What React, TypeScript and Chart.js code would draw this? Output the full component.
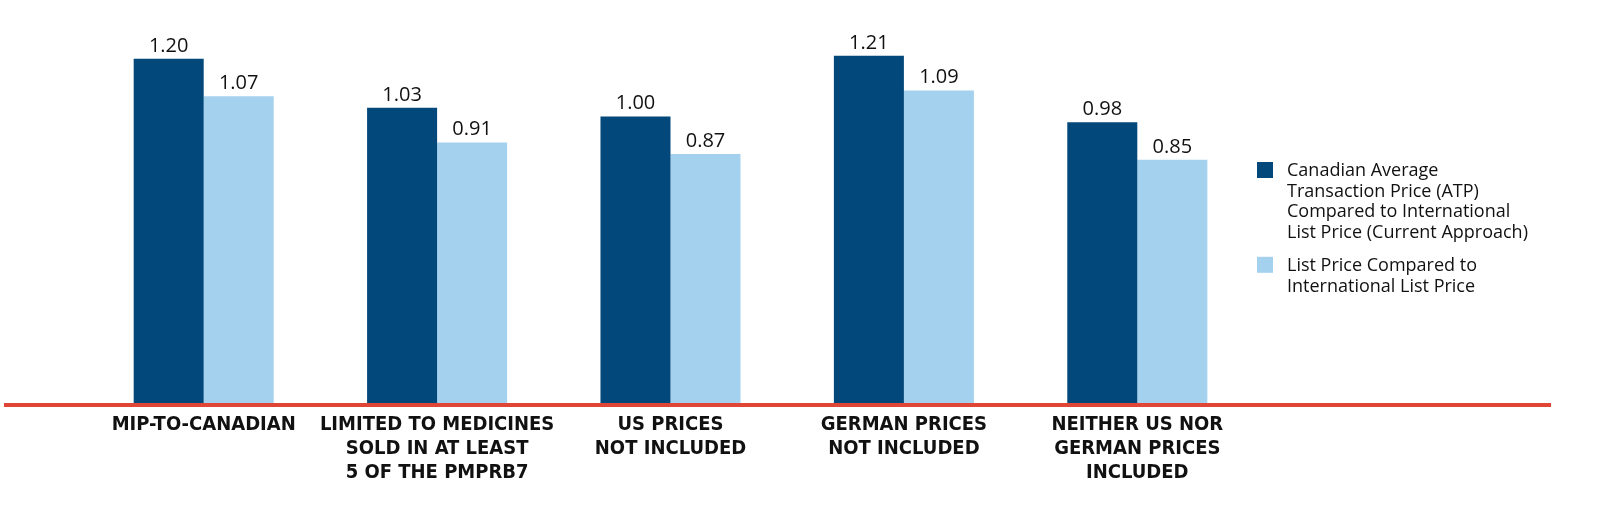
import React, { useEffect, useRef } from "react";
import { Chart, registerables } from "chart.js";

Chart.register(...registerables);

// ---- data ----
const categories: string[][] = [
  ["MIP-TO-CANADIAN"],
  ["LIMITED TO MEDICINES", "SOLD IN AT LEAST", "5 OF THE PMPRB7"],
  ["US PRICES", "NOT INCLUDED"],
  ["GERMAN PRICES", "NOT INCLUDED"],
  ["NEITHER US NOR", "GERMAN PRICES", "INCLUDED"],
];
const atpValues = [1.2, 1.03, 1.0, 1.21, 0.98];
const listValues = [1.07, 0.91, 0.87, 1.09, 0.85];
const seriesNames = [
  "Canadian Average Transaction Price (ATP) Compared to International List Price (Current Approach)",
  "List Price Compared to International List Price",
];
const legendLines: string[][] = [
  ["Canadian Average", "Transaction Price (ATP)", "Compared to International", "List Price (Current Approach)"],
  ["List Price Compared to", "International List Price"],
];

// ---- styles ----
const DARK = "#03487A";
const LIGHT = "#A4D1EE";
const RED = "#DF4636";
const TICK_FONT = "'DejaVu Sans Condensed', 'Liberation Sans', sans-serif";
const TEXT_FONT = "'Open Sans', 'Noto Sans', sans-serif";

const valueLabelPlugin = {
  id: "valueLabels",
  afterDatasetsDraw(chart: any) {
    const ctx = chart.ctx;
    ctx.save();
    ctx.fillStyle = "#111";
    ctx.font = `20px ${TEXT_FONT}`;
    ctx.textAlign = "center";
    ctx.textBaseline = "alphabetic";
    chart.data.datasets.forEach((ds: any, di: number) => {
      const meta = chart.getDatasetMeta(di);
      meta.data.forEach((bar: any, i: number) => {
        ctx.fillText(Number(ds.data[i]).toFixed(2), bar.x, bar.y - 7);
      });
    });
    ctx.restore();
  },
};

const baselinePlugin = {
  id: "redBaseline",
  afterDatasetsDraw(chart: any) {
    const { ctx, chartArea } = chart;
    ctx.save();
    ctx.strokeStyle = RED;
    ctx.lineWidth = 4;
    ctx.beginPath();
    ctx.moveTo(4, chartArea.bottom);
    ctx.lineTo(chartArea.right + 297, chartArea.bottom);
    ctx.stroke();
    ctx.restore();
  },
};

const legendPlugin = {
  id: "wrappedLegend",
  afterDraw(chart: any) {
    const { ctx, chartArea } = chart;
    const x0 = chartArea.right + 3;
    let y = 162;
    ctx.save();
    ctx.font = `18px ${TEXT_FONT}`;
    ctx.textAlign = "left";
    ctx.textBaseline = "alphabetic";
    chart.data.datasets.forEach((ds: any, di: number) => {
      ctx.fillStyle = ds.backgroundColor;
      ctx.fillRect(x0, y, 16, 16);
      ctx.fillStyle = "#111";
      legendLines[di].forEach((line, li) => {
        ctx.fillText(line, x0 + 30, y + 14 + li * 20.7);
      });
      y += legendLines[di].length * 20.7 + 12;
    });
    ctx.restore();
  },
};

export default function App() {
  const ref = useRef<HTMLCanvasElement | null>(null);
  useEffect(() => {
    document.body.style.margin = "0";
    if (!ref.current) return;
    const chart = new Chart(ref.current, {
      type: "bar",
      data: {
        labels: categories,
        datasets: [
          { label: seriesNames[0], data: atpValues, backgroundColor: DARK, categoryPercentage: 0.6, barPercentage: 1.0 },
          { label: seriesNames[1], data: listValues, backgroundColor: LIGHT, categoryPercentage: 0.6, barPercentage: 1.0 },
        ],
      },
      options: {
        responsive: false,
        animation: false,
        layout: { padding: { left: 87, right: 368, top: 1, bottom: 0 } },
        plugins: { legend: { display: false }, tooltip: { enabled: false } },
        scales: {
          x: {
            grid: { display: false },
            border: { display: false },
            ticks: {
              color: "#111",
              padding: 0,
              maxRotation: 0,
              autoSkip: false,
              font: { family: TICK_FONT, size: 20, weight: "bold", lineHeight: 24 / 20 },
            },
            afterFit(axis: any) {
              axis.height = 109;
            },
          },
          y: {
            display: false,
            min: 0,
            max: 1.4,
          },
        },
      },
      plugins: [valueLabelPlugin, baselinePlugin, legendPlugin],
    });
    return () => chart.destroy();
  }, []);
  return (
    <div style={{ width: 1622, height: 514, background: "#fff" }}>
      <canvas ref={ref} width={1622} height={514} />
    </div>
  );
}
